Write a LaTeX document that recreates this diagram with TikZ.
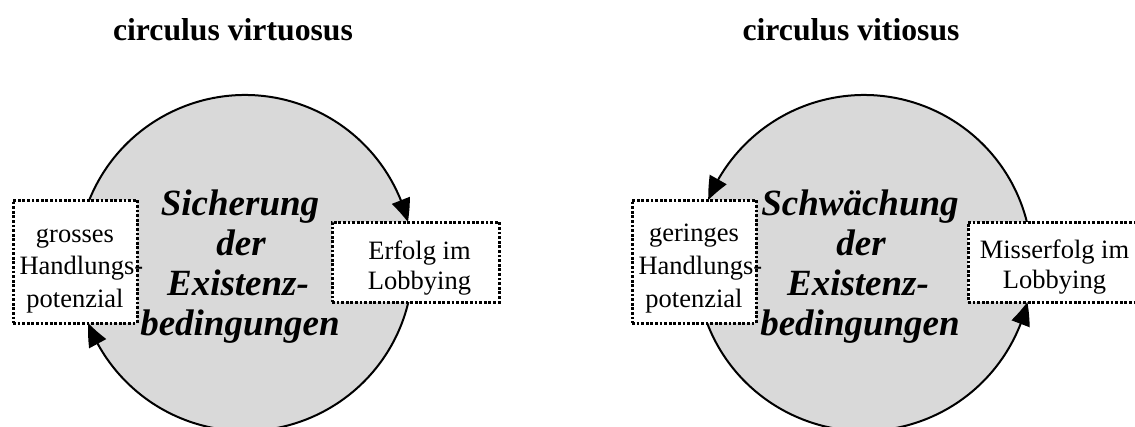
\documentclass[tikz,border=0pt]{standalone}
\usepackage{fontspec}
\setmainfont{Liberation Serif}
\usetikzlibrary{arrows.meta,bending}
\definecolor{diskgray}{HTML}{D9D9D9}
\tikzset{
  disk/.style={circle, fill=diskgray, minimum size=336pt, inner sep=0pt},
  ring/.style={line width=2pt, -{Triangle[length=23pt,width=19pt,bend]}},
  dotbox/.style={draw, fill=white, line width=3pt, dash pattern=on 2.8pt off 1.8pt, inner sep=0pt},
  titletext/.style={font=\fontsize{31.7}{38}\selectfont\bfseries, anchor=base},
  coretext/.style={font=\fontsize{37}{40}\selectfont\bfseries\itshape, anchor=base},
  boxtext/.style={font=\fontsize{26.5}{31}\selectfont, anchor=base},
}
\begin{document}
\begin{tikzpicture}[x=1pt,y=-1pt]
\useasboundingbox (0,0) rectangle (1135,426);

% titles
\node[titletext] (t1) at (233,40) {circulus virtuosus};
\node[titletext] (t2) at (851,40) {circulus vitiosus};

% disks
\node[disk] (c1) at (245,263) {};
\node[disk] (c2) at (864,263) {};

% left circle text
\node[coretext] (l1) at (240,215) {Sicherung};
\node[coretext] (l2) at (241,255) {der};
\node[coretext] (l3) at (238,295) {Existenz-};
\node[coretext] (l4) at (240,335) {bedingungen};

% right circle text
\node[coretext] (r1) at (860,215) {Schwächung};
\node[coretext] (r2) at (861,255) {der};
\node[coretext] (r3) at (858,295) {Existenz-};
\node[coretext] (r4) at (860,335) {bedingungen};

% arcs (left: clockwise, right: counter-clockwise)
\draw[ring] ([shift={(-158:168)}]c1.center) arc[start angle=-158, end angle=-14.1, radius=168];
\draw[ring] ([shift={(13.4:168)}]c1.center) arc[start angle=13.4, end angle=159.1, radius=168];
\draw[ring] ([shift={(-14.1:168)}]c2.center) arc[start angle=-14.1, end angle=-158, radius=168];
\draw[ring] ([shift={(159.1:168)}]c2.center) arc[start angle=159.1, end angle=13.4, radius=168];

% boxes
\node[dotbox, minimum width=124pt, minimum height=123pt] (bg) at (75,261.5) {};
\node[dotbox, minimum width=167pt, minimum height=80pt] (be) at (415.5,262) {};
\node[dotbox, minimum width=124pt, minimum height=123pt] (bn) at (694,261.5) {};
\node[dotbox, minimum width=173pt, minimum height=80pt] (bm) at (1054.5,262) {};

% box texts
\node[boxtext] (bg1) at (75,242) {grosses};
\node[boxtext] (bg2) at (77,274.5) {Handlungs\rlap{-}};
\node[boxtext] (bg3) at (75,307) {potenzial};

\node[boxtext] (be1) at (419.5,259) {Erfolg im};
\node[boxtext] (be2) at (419.5,289) {Lobbying};

\node[boxtext] (bn1) at (694,241) {geringes};
\node[boxtext] (bn2) at (696,274.5) {Handlungs\rlap{-}};
\node[boxtext] (bn3) at (694,307) {potenzial};

\node[boxtext] (bm1) at (1054.5,258) {Misserfolg im};
\node[boxtext] (bm2) at (1054.5,288) {Lobbying};
\end{tikzpicture}
\end{document}
